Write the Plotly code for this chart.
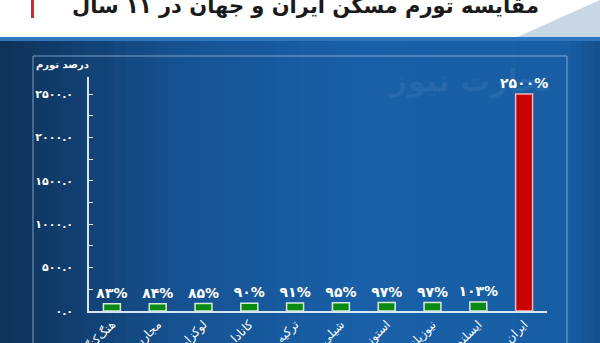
import plotly.graph_objects as go

# ---- data ----
countries = ["هنگ‌کنگ", "مجارستان", "لوکزامبورگ", "کانادا", "ترکیه",
             "شیلی", "استونی", "نیوزیلند", "ایسلند", "ایران"]
inflation = [83, 84, 85, 90, 91, 95, 97, 97, 103, 2500]
bar_labels = ["۸۳%", "۸۴%", "۸۵%", "۹۰%", "۹۱%", "۹۵%", "۹۷%", "۹۷%", "۱۰۳%", "۲۵۰۰%"]
ytick_vals = [0, 500, 1000, 1500, 2000, 2500]
ytick_text = ["۰.۰", "۵۰۰.۰", "۱۰۰۰.۰", "۱۵۰۰.۰", "۲۰۰۰.۰", "۲۵۰۰.۰"]
title_text = "مقایسه تورم مسکن ایران و جهان در ۱۱ سال"
yaxis_title = "درصد تورم"
watermark = "تجارت نیوز"

W, H = 600, 343
FONT = "DejaVu Sans"

bar_colors = ["#0a8a12"] * 9 + ["#c80000"]
line_colors = ["#d8ecd8"] * 9 + ["#f2b6b6"]

fig = go.Figure()
fig.add_trace(go.Bar(
    x=countries, y=inflation,
    marker=dict(color=bar_colors, line=dict(color=line_colors, width=1.5)),
    width=0.37,
    text=bar_labels, textposition="outside", cliponaxis=False, constraintext="none",
    textfont=dict(color="white", size=14, family=FONT, weight="bold"),
))

# ---- background gradient (style only) ----
def lerp(c1, c2, t):
    return tuple(int(round(c1[i] + (c2[i] - c1[i]) * t)) for i in range(3))

stops = [(0, (14, 50, 90)), (70, (17, 62, 110)), (180, (22, 82, 146)),
         (360, (25, 96, 168)), (567, (24, 94, 164)), (600, (21, 80, 140))]
shapes = []
step = 6
for x0 in range(0, W, step):
    xm = x0 + step / 2
    for j in range(len(stops) - 1):
        if stops[j][0] <= xm <= stops[j + 1][0]:
            t = (xm - stops[j][0]) / (stops[j + 1][0] - stops[j][0])
            c = lerp(stops[j][1], stops[j + 1][1], t)
            break
    shapes.append(dict(type="rect", xref="paper", yref="paper",
                       x0=x0 / W, x1=(x0 + step + 0.5) / W, y0=0, y1=1 - 38 / H,
                       fillcolor="rgb(%d,%d,%d)" % c, line_width=0, layer="below"))
# top white strip
shapes.append(dict(type="rect", xref="paper", yref="paper", x0=0, x1=1,
                   y0=1 - 38 / H, y1=1, fillcolor="white", line_width=0, layer="below"))
# light triangle top right
shapes.append(dict(type="path", xref="paper", yref="paper",
                   path="M %f %f L %f %f L %f %f Z" % (515 / W, 1 - 38 / H, 1, 1, 1, 1 - 38 / H),
                   fillcolor="#c9d6e6", line_width=0, layer="below"))
# thin band below title strip
shapes.append(dict(type="rect", xref="paper", yref="paper", x0=0, x1=1,
                   y0=1 - 41 / H, y1=1 - 37 / H, fillcolor="#2f78bf", line_width=0, layer="below"))
# red accent
shapes.append(dict(type="rect", xref="paper", yref="paper", x0=31 / W, x1=34 / W,
                   y0=1 - 18 / H, y1=1, fillcolor="#d9262e", line_width=0, layer="below"))
# panel frame
shapes.append(dict(type="rect", xref="paper", yref="paper", x0=33 / W, x1=567 / W,
                   y0=-0.05, y1=1 - 56 / H, fillcolor="rgba(0,0,0,0)",
                   line=dict(color="rgba(170,200,235,0.7)", width=1), layer="below"))

annotations = [
    dict(text="<b>" + title_text + "</b>", xref="paper", yref="paper",
         x=305 / W, y=1 - 6 / H, showarrow=False, xanchor="center", yanchor="middle",
         font=dict(size=21, color="#1a1a1a", family=FONT)),
    dict(text="<b>" + yaxis_title + "</b>", xref="paper", yref="paper",
         x=62 / W, y=1 - 65 / H, showarrow=False, xanchor="center", yanchor="middle",
         font=dict(size=10, color="white", family=FONT)),
    dict(text="<b>" + watermark + "</b>", xref="paper", yref="paper",
         x=470 / W, y=1 - 80 / H, showarrow=False, xanchor="center", yanchor="middle",
         font=dict(size=30, color="rgba(255,255,255,0.06)", family=FONT)),
]

fig.update_layout(
    width=W, height=H,
    margin=dict(l=0, r=0, t=0, b=0),
    paper_bgcolor="#1a5c9e", plot_bgcolor="rgba(0,0,0,0)",
    showlegend=False, shapes=shapes, annotations=annotations,
    font=dict(family=FONT, color="white"),
    xaxis=dict(domain=[89 / W, 547 / W], showline=True, linecolor="#d6e6f5", linewidth=1.5,
               ticks="", showgrid=False, tickangle=-45, automargin=False,
               tickfont=dict(size=12, color="white", family=FONT), fixedrange=True),
    yaxis=dict(domain=[1 - 311 / H, 1 - 77 / H], range=[0, 2696], showline=True,
               linecolor="#d6e6f5", linewidth=1.5, showgrid=False, zeroline=False,
               tickmode="array", tickvals=ytick_vals, ticktext=ytick_text,
               ticks="inside", ticklen=4, tickcolor="#d6e6f5",
               minor=dict(ticks="inside", ticklen=4, tickcolor="#d6e6f5", dtick=250, tick0=0),
               ticklabelstandoff=12, automargin=False,
               tickfont=dict(size=11, color="white", family=FONT, weight="bold")),
)

fig.write_html("out.html")
